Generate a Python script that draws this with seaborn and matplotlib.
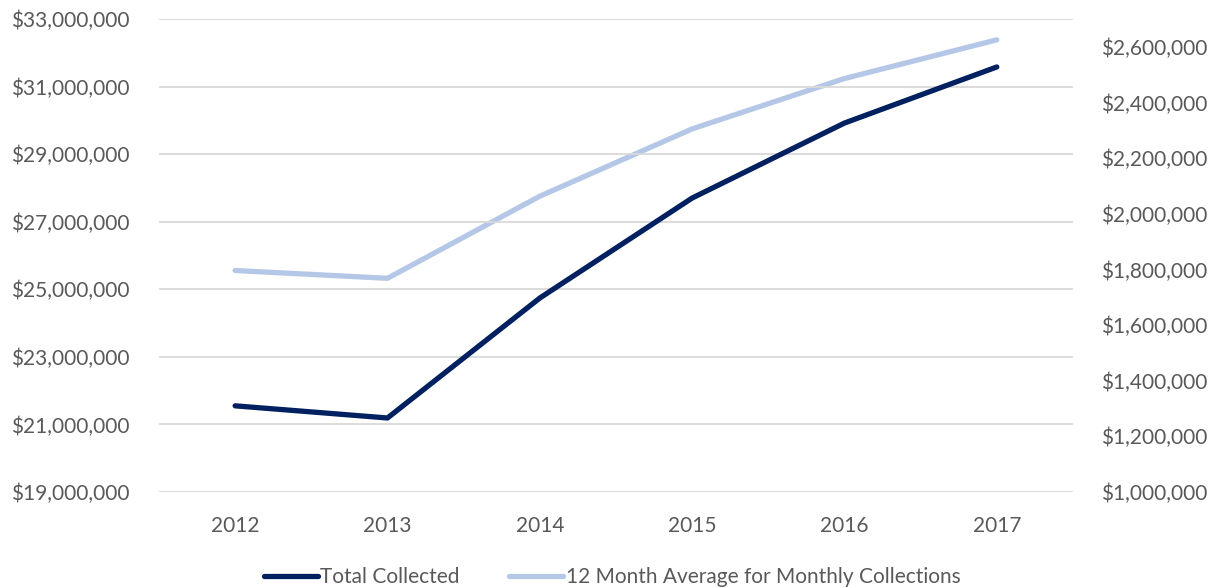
import matplotlib
matplotlib.use("Agg")
import matplotlib.pyplot as plt
import seaborn as sns
import pandas as pd
import numpy as np
from matplotlib.ticker import FuncFormatter

# Values
years = ["2012", "2013", "2014", "2015", "2016", "2017"]
total_collected = [21550000, 21190000, 24740000, 27700000, 29920000, 31580000]
monthly_average = [1796000, 1768000, 2063000, 2305000, 2486000, 2625000]

df = pd.DataFrame({"Year": years, "Total": total_collected, "Average": monthly_average})

sns.set_theme(style="white")
plt.rcParams["font.family"] = ["Lato", "DejaVu Sans"]

dark = "#002060"
light = "#B4C7E7"
grey_text = "#595959"

fig = plt.figure(figsize=(12.19, 5.88), dpi=100)
ax = fig.add_axes([0.1304, 0.1633, 0.7498, 0.8044])
ax2 = ax.twinx()

sns.lineplot(data=df, x="Year", y="Total", ax=ax, color=dark, linewidth=3.8,
             sort=False, label="Total Collected", legend=False)
sns.lineplot(data=df, x="Year", y="Average", ax=ax2, color=light, linewidth=3.8,
             sort=False, label="12 Month Average for Monthly Collections", legend=False)

ax.set_xlim(-0.5, len(years) - 0.5)
ax.set_ylim(19000000, 33000000)
ax.set_yticks(np.arange(19000000, 33000001, 2000000))
ax2.set_ylim(1000000, 2700000)
ax2.set_yticks(np.arange(1000000, 2600001, 200000))

money = FuncFormatter(lambda v, p: f"${v:,.0f}")
ax.yaxis.set_major_formatter(money)
ax2.yaxis.set_major_formatter(money)

ax.grid(axis="y", color="#D9D9D9", linewidth=1.3)
ax.set_axisbelow(True)
ax2.grid(False)
ax.set_zorder(ax2.get_zorder() + 1)
ax.patch.set_visible(False)

for a in (ax, ax2):
    for s in a.spines.values():
        s.set_visible(False)
    a.set_xlabel("")
    a.set_ylabel("")
    a.tick_params(axis="both", length=0, labelsize=15, labelcolor=grey_text)
ax.tick_params(axis="y", pad=21)
ax.tick_params(axis="x", pad=17)
ax2.tick_params(axis="y", pad=20)

h1, l1 = ax.get_legend_handles_labels()
h2, l2 = ax2.get_legend_handles_labels()
fig.legend(h1 + h2, l1 + l2, loc="lower center", bbox_to_anchor=(0.502, -0.03),
           ncol=2, frameon=False, fontsize=15, labelcolor=grey_text,
           handlelength=2.6, handletextpad=0.1, columnspacing=2.4)

fig.savefig("out.png", dpi=100)
